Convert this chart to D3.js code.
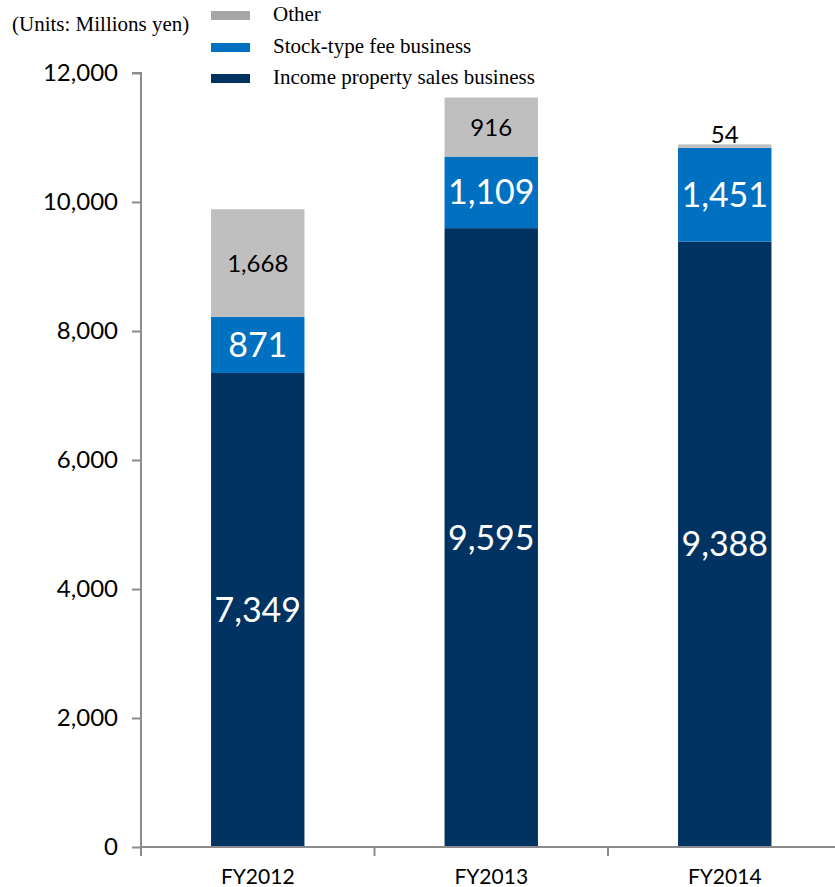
<!DOCTYPE html>
<html>
<head>
<meta charset="utf-8">
<script src="https://cdn.jsdelivr.net/npm/d3@7"></script>
<style>
  body { margin: 0; background: #fff; }
  svg text { font-family: Lato, "Noto Sans", sans-serif; }
  .serif { font-family: "Liberation Serif", "Times New Roman", serif !important; }
</style>
</head>
<body>
<div id="chart"></div>
<script>
var years = ["FY2012", "FY2013", "FY2014"];
var incomeProperty = [7349, 9595, 9388];
var stockFee = [871, 1109, 1451];
var other = [1668, 916, 54];
var seriesNames = ["Income property sales business", "Stock-type fee business", "Other"];
var yTicks = [0, 2000, 4000, 6000, 8000, 10000, 12000];

var width = 835, height = 887;
var colors = ["#003362", "#0070C0", "#BFBFBF"];

var svg = d3.select("#chart").append("svg")
    .attr("width", width)
    .attr("height", height);

var y = d3.scaleLinear().domain([0, 12000]).range([847, 73]);
var x = d3.scaleBand().domain(years).range([141, 841.5])
    .paddingInner(0.6).paddingOuter(0.3);

var rows = years.map(function(yr, i) {
    return { year: yr, income: incomeProperty[i], stock: stockFee[i], other: other[i] };
});
var stack = d3.stack().keys(["income", "stock", "other"]);
var layers = stack(rows);

// y axis
var yAxis = svg.append("g")
    .attr("transform", "translate(141,0)")
    .call(d3.axisLeft(y).tickValues(yTicks).tickSize(9).tickPadding(14)
        .tickFormat(d3.format(",")));
yAxis.select(".domain").attr("stroke", "#8c8c8c").attr("stroke-width", 2)
    .attr("d", "M-9," + y(12000) + "H0V" + y(0));
yAxis.selectAll(".tick line").attr("stroke", "#8c8c8c").attr("stroke-width", 2);
yAxis.selectAll(".tick text").attr("font-size", 24).attr("fill", "#000")
    .attr("font-family", "Lato, 'Noto Sans', sans-serif");

// bars
layers.forEach(function(layer, li) {
    svg.append("g").selectAll("rect")
        .data(layer)
        .enter().append("rect")
        .attr("x", function(d) { return x(d.data.year); })
        .attr("width", x.bandwidth())
        .attr("y", function(d) { return y(d[1]); })
        .attr("height", function(d) { return y(d[0]) - y(d[1]); })
        .attr("fill", colors[li]);
});

// x axis
var xAxis = svg.append("g")
    .attr("transform", "translate(0," + y(0) + ")");
xAxis.append("line").attr("x1", 141).attr("x2", width)
    .attr("stroke", "#8c8c8c").attr("stroke-width", 2);
var step = x.step();
[0, 1, 2, 3].forEach(function(i) {
    var tx = 141 + i * step;
    xAxis.append("line").attr("x1", tx).attr("x2", tx).attr("y1", 0).attr("y2", 9)
        .attr("stroke", "#8c8c8c").attr("stroke-width", 2);
});
xAxis.selectAll("text.cat").data(years).enter().append("text")
    .attr("class", "cat")
    .attr("x", function(d) { return x(d) + x.bandwidth() / 2; })
    .attr("y", 37)
    .attr("text-anchor", "middle")
    .attr("font-size", 21)
    .text(function(d) { return d; });

// value labels
var fmt = d3.format(",");
layers.forEach(function(layer, li) {
    svg.append("g").selectAll("text")
        .data(layer)
        .enter().append("text")
        .attr("x", function(d) { return x(d.data.year) + x.bandwidth() / 2; })
        .attr("y", function(d) {
            var v = d[1] - d[0];
            if (li == 2 && v < 300) return y(d[1]) - 1;
            return (y(d[0]) + y(d[1])) / 2 + (li == 2 ? 9 : 12);
        })
        .attr("text-anchor", "middle")
        .attr("font-size", li == 2 ? 24 : 34)
        .attr("fill", li == 2 ? "#000" : "#fff")
        .text(function(d) { return fmt(d[1] - d[0]); });
});

// legend
var legend = [
    { name: seriesNames[2], color: "#A6A6A6", y: 15 },
    { name: seriesNames[1], color: colors[1], y: 47 },
    { name: seriesNames[0], color: colors[0], y: 78 }
];
var lg = svg.append("g");
lg.selectAll("rect").data(legend).enter().append("rect")
    .attr("x", 211).attr("width", 39)
    .attr("y", function(d) { return d.y - 4; })
    .attr("height", 9)
    .attr("fill", function(d) { return d.color; });
lg.selectAll("text").data(legend).enter().append("text")
    .attr("class", "serif")
    .attr("x", 273)
    .attr("y", function(d) { return d.y + 6; })
    .attr("font-size", 21)
    .text(function(d) { return d.name; });

svg.append("text")
    .attr("class", "serif")
    .attr("x", 12).attr("y", 31)
    .attr("font-size", 21)
    .text("(Units: Millions yen)");
</script>
</body>
</html>
